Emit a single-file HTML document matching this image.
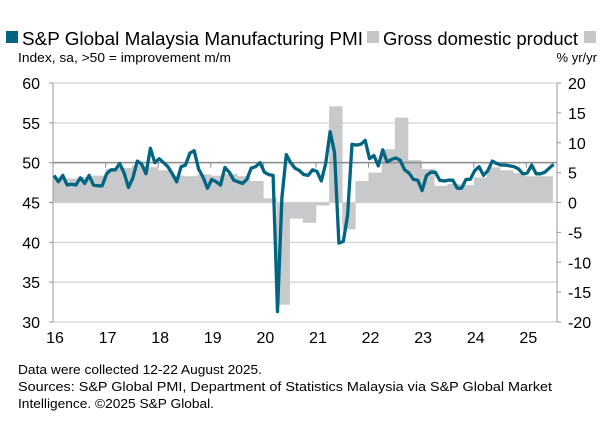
<!DOCTYPE html>
<html><head><meta charset="utf-8"><style>
body{margin:0;background:#fff;width:616px;height:428px;overflow:hidden;font-family:"Liberation Sans",sans-serif;}
</style></head><body>
<svg id="s" width="616" height="428" xmlns="http://www.w3.org/2000/svg" font-family="Liberation Sans, sans-serif">
<rect x="6" y="31" width="12" height="12" fill="#006580"/>
<text x="22" y="45" font-size="18" fill="#000" textLength="341" lengthAdjust="spacingAndGlyphs">S&amp;P Global Malaysia Manufacturing PMI</text>
<rect x="367" y="31" width="12" height="12" fill="#c6c6c6"/>
<text x="383" y="45" font-size="18" fill="#000" textLength="195" lengthAdjust="spacingAndGlyphs">Gross domestic product</text>
<rect x="584" y="31" width="12" height="12" fill="#c6c6c6"/>
<text x="18" y="62" font-size="13" textLength="213" lengthAdjust="spacingAndGlyphs">Index, sa, &gt;50 = improvement m/m</text>
<text x="597" y="62" font-size="13" text-anchor="end">% yr/yr</text>
<g id="g"></g>
<text x="18" y="374" font-size="13" textLength="244" lengthAdjust="spacingAndGlyphs">Data were collected 12-22 August 2025.</text>
<text x="18" y="391" font-size="13" textLength="534" lengthAdjust="spacingAndGlyphs">Sources: S&amp;P Global PMI, Department of Statistics Malaysia via S&amp;P Global Market</text>
<text x="18" y="408" font-size="13" textLength="196" lengthAdjust="spacingAndGlyphs">Intelligence. ©2025 S&amp;P Global.</text>
</svg>
<script>
var g=document.getElementById('g'),h='';
var L=53,R=557,T=83,B=322;
function yp(v){return T+(60-v)*(B-T)/30;}
function yg(v){return T+(20-v)*(B-T)/40;}
var mw=(R-L)/115;
for(var i=0;i<=6;i++){var y=T+i*(B-T)/6;h+='<line x1="'+L+'" x2="'+R+'" y1="'+y+'" y2="'+y+'" stroke="#d9d9d9" stroke-width="1.5"/>';
h+='<text x="40" y="'+(y+6)+'" font-size="16" text-anchor="end">'+(60-5*i)+'</text>';
h+='<line x1="'+(L-4)+'" x2="'+L+'" y1="'+y+'" y2="'+y+'" stroke="#999"/>';}
for(var i=0;i<=8;i++){var y=T+i*(B-T)/8;
h+='<text x="568" y="'+(y+6)+'" font-size="16">'+(20-5*i)+'</text>';
h+='<line x1="'+R+'" x2="'+(R+4)+'" y1="'+y+'" y2="'+y+'" stroke="#999"/>';}
var gdp=[4.2,4.0,4.3,4.5,5.6,5.8,6.2,5.9,5.4,4.5,4.4,4.7,4.5,4.8,4.4,3.6,0.7,-17.1,-2.7,-3.4,-0.5,16.1,-4.5,3.6,5.0,8.9,14.2,7.1,5.6,2.8,3.1,2.9,4.2,5.9,5.4,4.9,4.4,4.4];
for(var q=0;q<gdp.length;q++){var x=L+q*3*mw,v=gdp[q],y0=yg(0),y1=yg(v);
h+='<rect x="'+x+'" y="'+Math.min(y0,y1)+'" width="'+(3*mw+0.3)+'" height="'+Math.abs(y1-y0)+'" fill="#c8c9cb"/>';}
h+='<line x1="'+L+'" x2="'+R+'" y1="'+yp(50)+'" y2="'+yp(50)+'" stroke="#8c8c8c" stroke-width="1.5"/>';
h+='<line x1="'+L+'" x2="'+L+'" y1="'+T+'" y2="'+B+'" stroke="#999"/>';
h+='<line x1="'+R+'" x2="'+R+'" y1="'+T+'" y2="'+B+'" stroke="#999"/>';
for(var k=0;k<10;k++){var x=L+k*12*mw;h+='<line x1="'+x+'" x2="'+x+'" y1="'+yp(50)+'" y2="'+(yp(50)+5)+'" stroke="#8c8c8c"/>';
h+='<text x="'+(x+2)+'" y="343" font-size="16" text-anchor="middle">'+(16+k)+'</text>';}
var p=[48.4,47.6,48.4,47.2,47.3,47.2,48.1,47.4,48.4,47.2,47.1,47.1,
48.6,49.1,49.1,49.9,48.7,46.9,48.1,50.2,49.8,48.6,51.8,50.0,
50.5,50.0,49.5,48.6,47.6,49.5,49.7,51.2,51.5,49.2,48.2,46.8,
47.9,47.6,47.2,49.4,48.8,47.8,47.6,47.4,47.9,49.3,49.5,50.0,
48.8,48.5,48.4,31.3,45.6,51.0,50.0,49.3,49.0,48.5,48.4,49.1,
48.9,47.7,49.9,53.9,51.3,39.9,40.1,43.4,52.3,52.2,52.3,52.8,
50.5,50.9,49.6,51.6,50.1,50.4,50.6,50.3,49.1,48.7,47.9,47.8,
46.5,48.4,48.8,48.8,47.8,47.7,47.8,47.8,46.8,46.8,47.9,47.9,
49.0,49.5,48.4,49.0,50.2,49.9,49.7,49.7,49.6,49.5,49.2,48.6,
48.7,49.7,48.6,48.6,48.8,49.3,49.8];
var pts=p.map(function(v,i){return (L+1+i*mw).toFixed(1)+','+yp(v).toFixed(1);}).join(' ');
h+='<polyline points="'+pts+'" fill="none" stroke="#006580" stroke-width="3.3" stroke-linejoin="round"/>';
g.innerHTML=h;
</script>
</body></html>
